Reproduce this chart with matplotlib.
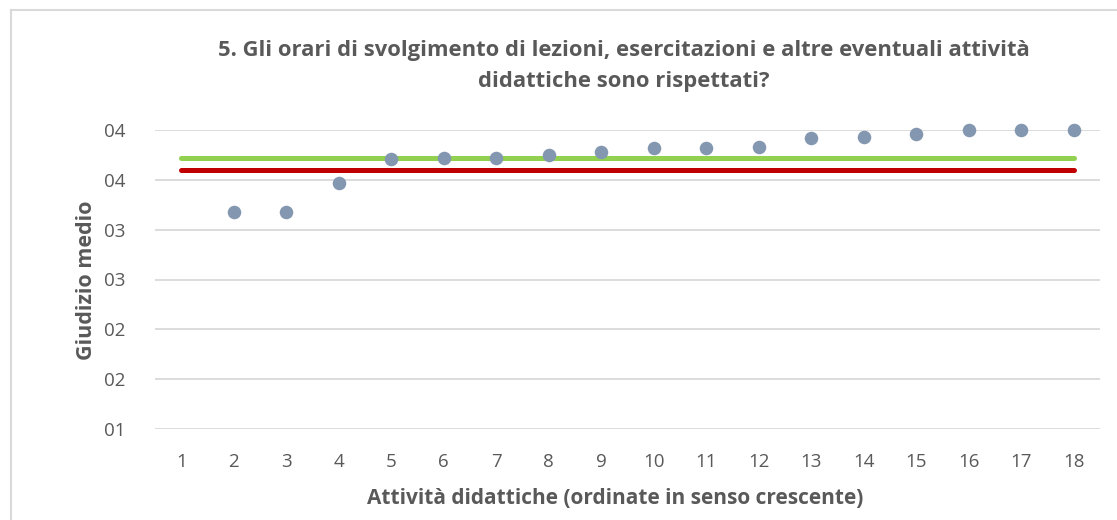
import matplotlib
matplotlib.use("Agg")
import matplotlib.pyplot as plt
import numpy as np
from matplotlib.lines import Line2D

# ---- data ----
categories = list(range(1, 19))
giudizio = [np.nan, 3.18, 3.18, 3.47, 3.71, 3.72, 3.72, 3.75, 3.78, 3.815,
            3.815, 3.83, 3.915, 3.93, 3.96, 4.0, 4.0, 4.0]
media_verde = 3.72
media_rossa = 3.60
y_ticks = [1.0, 1.5, 2.0, 2.5, 3.0, 3.5, 4.0]
y_tick_labels = ["01", "02", "02", "03", "03", "04", "04"]
title = ("5. Gli orari di svolgimento di lezioni, esercitazioni e altre eventuali attività\n"
         "didattiche sono rispettati?")
xlabel = "Attività didattiche (ordinate in senso crescente)"
ylabel = "Giudizio medio"

W, H = 1117, 520
fig = plt.figure(figsize=(W / 100, H / 100), dpi=100)
plt.rcParams['font.family'] = ['Open Sans', 'DejaVu Sans']

ax = fig.add_axes([155 / W, 1 - 429 / H, (1100 - 155) / W, (429 - 130) / H])
ax.set_xlim(0.5, 18.5)
ax.set_ylim(1.0, 4.0)

for yt in y_ticks:
    ax.axhline(yt, color="#D9D9D9", lw=1.3, zorder=1)

ax.plot([categories[0], categories[-1]], [media_verde, media_verde], color="#92D050",
        lw=3.6, solid_capstyle="round", zorder=2)
ax.plot([categories[0], categories[-1]], [media_rossa, media_rossa], color="#C00000",
        lw=3.6, solid_capstyle="round", zorder=2)
ax.scatter(categories, giudizio, s=95, color="#8497B0", zorder=3, clip_on=False,
           linewidths=0)

for s in ax.spines.values():
    s.set_visible(False)
ax.set_xticks(categories)
ax.set_xticklabels([str(c) for c in categories])
ax.set_yticks(y_ticks)
ax.set_yticklabels(y_tick_labels)
ax.tick_params(axis="both", length=0, labelsize=13.5, labelcolor="#595959")
ax.tick_params(axis="x", pad=17)
ax.tick_params(axis="y", pad=21)

fig.text(623.5 / W, 1 - 66 / H, title, ha="center", va="center",
         multialignment="center", fontsize=15.8, fontweight="bold",
         color="#595959", linespacing=1.62)
fig.text(615 / W, 1 - 499 / H, xlabel, ha="center", va="center",
         fontsize=15, fontweight="bold", color="#595959")
fig.text(87 / W, 1 - 280 / H, ylabel, ha="center", va="center", rotation=90,
         fontsize=15.5, fontweight="bold", color="#595959")

# outer chart frame (partially visible)
x0 = 11 / W
y0 = 1 - 10 / H
fig.add_artist(Line2D([x0, x0], [0, y0], color="#D9D9D9", lw=1.5,
                      transform=fig.transFigure))
fig.add_artist(Line2D([x0, 1], [y0, y0], color="#D9D9D9", lw=1.5,
                      transform=fig.transFigure))

fig.savefig("out.png", dpi=100)
